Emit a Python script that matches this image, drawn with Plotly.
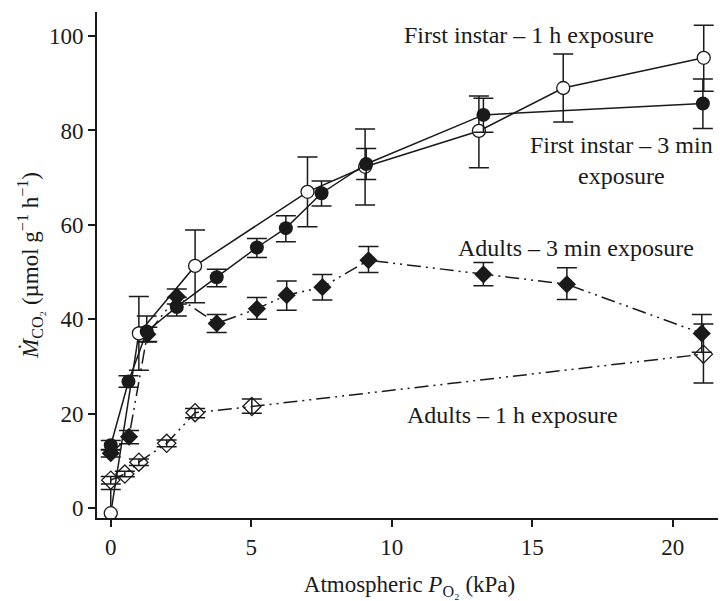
import plotly.graph_objects as go

# First instar – 1 h exposure (open circles)
fi1h_x = [0.0, 1.0, 3.0, 7.0, 9.05, 13.1, 16.1, 21.1]
fi1h_y = [-1.1, 37.0, 51.3, 67.0, 72.3, 79.9, 89.0, 95.4]
fi1h_up = [5.0, 7.8, 7.6, 7.4, 8.0, 7.4, 7.2, 6.9]
fi1h_dn = [5.0, 7.8, 7.8, 7.4, 8.1, 7.8, 7.2, 7.1]

# First instar – 3 min exposure (filled circles)
fi3m_x = [0.0, 0.63, 1.28, 2.35, 3.77, 5.2, 6.23, 7.5, 9.09, 13.26, 21.07]
fi3m_y = [13.3, 26.8, 37.4, 42.6, 48.9, 55.2, 59.3, 66.7, 72.9, 83.3, 85.7]
fi3m_up = [1.0, 1.2, 3.3, 2.0, 1.7, 1.9, 2.6, 2.6, 3.3, 3.5, 5.2]
fi3m_dn = [1.0, 1.2, 2.2, 1.9, 2.0, 2.1, 2.9, 2.7, 3.3, 3.7, 5.3]

# Adults – 3 min exposure (filled diamonds)
ad3m_x = [0.0, 0.65, 1.3, 2.35, 3.77, 5.2, 6.26, 7.53, 9.17, 13.26, 16.23, 21.03]
ad3m_y = [11.6, 15.1, 36.8, 44.8, 39.1, 42.2, 45.1, 46.8, 52.5, 49.5, 47.4, 37.0]
ad3m_up = [0.8, 1.3, 1.5, 1.6, 1.9, 2.4, 3.0, 2.7, 2.9, 2.5, 3.5, 4.0]
ad3m_dn = [0.8, 1.5, 1.5, 1.6, 1.9, 2.2, 3.2, 2.7, 2.6, 2.4, 3.2, 4.0]

# Adults – 1 h exposure (open diamonds)
ad1h_x = [0.0, 0.5, 1.0, 1.99, 3.0, 5.02, 21.09]
ad1h_y = [5.9, 7.2, 9.7, 13.7, 20.2, 21.5, 32.6]
ad1h_up = [0.8, 0.6, 0.7, 0.7, 0.9, 1.6, 6.4]
ad1h_dn = [0.8, 0.6, 0.7, 0.7, 1.1, 1.4, 6.1]

x_ticks = [0, 5, 10, 15, 20]
y_ticks = [0, 20, 40, 60, 80, 100]

labels = ["First instar – 1 h exposure", "First instar – 3 min<br>exposure",
          "Adults – 3 min exposure", "Adults – 1 h exposure"]
label_x = [14.87, 18.16, 16.54, 14.3]
label_y = [100.2, 73.7, 55.1, 19.7]

INK = "#1a1a1a"
FONT = "Liberation Serif, Times New Roman, serif"
DASH = "14px,5px,2px,5px,2px,5px"

def err(up, dn):
    return dict(type="data", symmetric=False, array=up, arrayminus=dn,
                color=INK, thickness=1.5, width=10)

fig = go.Figure()
fig.add_trace(go.Scatter(x=ad1h_x, y=ad1h_y, mode="lines+markers",
    line=dict(color=INK, width=1.5, dash=DASH),
    marker=dict(symbol="diamond-open", size=14, color=INK, line=dict(width=1.3, color=INK)),
    error_y=err(ad1h_up, ad1h_dn)))
fig.add_trace(go.Scatter(x=ad3m_x, y=ad3m_y, mode="lines+markers",
    line=dict(color=INK, width=1.5, dash=DASH),
    marker=dict(symbol="diamond", size=14, color=INK),
    error_y=err(ad3m_up, ad3m_dn)))
fig.add_trace(go.Scatter(x=fi1h_x, y=fi1h_y, mode="lines+markers",
    line=dict(color=INK, width=1.5),
    marker=dict(symbol="circle", size=13, color="white", line=dict(width=1.3, color=INK)),
    error_y=err(fi1h_up, fi1h_dn)))
fig.add_trace(go.Scatter(x=fi3m_x, y=fi3m_y, mode="lines+markers",
    line=dict(color=INK, width=1.5),
    marker=dict(symbol="circle", size=14, color=INK),
    error_y=err(fi3m_up, fi3m_dn)))

for t, lx, ly in zip(labels, label_x, label_y):
    fig.add_annotation(x=lx, y=ly, text=t, showarrow=False,
                       font=dict(family=FONT, size=24, color=INK))

fig.update_layout(
    width=718, height=593,
    margin=dict(l=89, r=4, t=4, b=83),
    paper_bgcolor="white", plot_bgcolor="white",
    showlegend=False,
    font=dict(family=FONT, size=23, color=INK),
)
fig.update_xaxes(range=[-0.49, 21.75], tickvals=x_ticks, ticks="outside", ticklen=7,
                 tickwidth=1.5, tickcolor=INK, showline=True, linewidth=2, linecolor=INK,
                 showgrid=False, zeroline=False, tickfont=dict(family=FONT, size=23, color=INK),
                 title=dict(text="Atmospheric <i>P</i><sub>O₂</sub> (kPa)", standoff=17,
                            font=dict(family=FONT, size=23, color=INK)))
fig.update_yaxes(range=[-2.12, 105.1], tickvals=y_ticks, ticks="outside", ticklen=7,
                 tickwidth=1.5, tickcolor=INK, showline=True, linewidth=2, linecolor=INK,
                 showgrid=False, zeroline=False, tickfont=dict(family=FONT, size=23, color=INK),
                 title=dict(text="<i>Ṁ</i><sub>CO₂</sub> (µmol g<sup>−1</sup> h<sup>−1</sup>)",
                            standoff=4, font=dict(family=FONT, size=23, color=INK)))

fig.write_html("out.html")
